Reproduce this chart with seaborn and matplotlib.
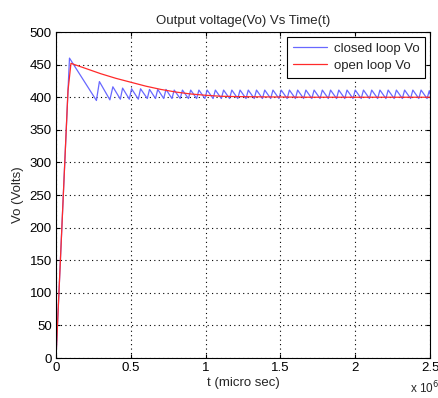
import numpy as np
import pandas as pd
import matplotlib
matplotlib.use("Agg")
import matplotlib.pyplot as plt
import seaborn as sns

# time in units of 1e6 micro sec, voltage in volts
closed_t = [0.0, 0.08, 0.09, 0.27, 0.29, 0.36, 0.38, 0.43, 0.445, 0.49, 0.505,
            0.55, 0.565, 0.61, 0.625, 0.665, 0.68, 0.72, 0.735, 0.775, 0.79,
            0.83, 0.845, 0.885, 0.90, 0.94, 0.955, 0.995, 1.01, 1.05, 1.065,
            1.105, 1.12, 1.16, 1.175, 1.215, 1.23, 1.27, 1.285, 1.325, 1.34,
            1.38, 1.395, 1.435, 1.45, 1.49, 1.505, 1.545, 1.56, 1.60, 1.615,
            1.655, 1.67, 1.71, 1.725, 1.765, 1.78, 1.82, 1.835, 1.875, 1.89,
            1.93, 1.945, 1.985, 2.00, 2.04, 2.055, 2.095, 2.11, 2.15, 2.165,
            2.205, 2.22, 2.26, 2.275, 2.315, 2.33, 2.37, 2.385, 2.425, 2.44,
            2.48, 2.495, 2.5]
closed_v = [0, 410, 460, 395, 424, 396, 416, 397, 414, 397, 413,
            397, 413, 398, 412, 398, 412, 398, 412, 398, 411,
            398, 411, 398, 411, 398, 411, 398, 411, 398, 411,
            398, 411, 398, 411, 398, 411, 398, 411, 398, 411,
            398, 411, 398, 411, 398, 411, 398, 411, 398, 411,
            398, 411, 398, 411, 398, 411, 398, 411, 398, 411,
            398, 411, 398, 411, 398, 411, 398, 411, 398, 411,
            398, 411, 398, 411, 398, 411, 398, 411, 398, 411,
            398, 410, 405]

open_t = [0.0, 0.08, 0.1, 0.2, 0.3, 0.4, 0.5, 0.6, 0.7, 0.8, 0.9,
          1.0, 1.1, 1.2, 1.4, 1.7, 2.0, 2.5]
open_v = [0, 410, 452, 444, 436, 429, 423, 417, 412, 408, 405,
          403, 401.5, 401, 400.5, 400, 400, 400]

closed_df = pd.DataFrame({"t": closed_t, "v": closed_v})
open_df = pd.DataFrame({"t": open_t, "v": open_v})

sns.set_style("white")
plt.rcParams["font.family"] = ["Liberation Sans", "DejaVu Sans"]

fig = plt.figure(figsize=(4.39, 3.98), dpi=100)
ax = fig.add_axes([0.1276, 0.1005, 0.852, 0.819])

sns.lineplot(data=closed_df, x="t", y="v", sort=False, ax=ax,
             color="#6868ff", linewidth=0.9, label="closed loop Vo")
sns.lineplot(data=open_df, x="t", y="v", sort=False, ax=ax,
             color="#ff2a2a", linewidth=0.9, label="open loop Vo")

ax.set_xlim(0, 2.5)
ax.set_ylim(0, 500)
ax.set_xticks([0, 0.5, 1, 1.5, 2, 2.5])
ax.set_xticklabels(["0", "0.5", "1", "1.5", "2", "2.5"])
ax.set_yticks(range(0, 501, 50))
ax.tick_params(direction="in", length=3, labelsize=9.5, colors="black",
               top=True, right=True, bottom=True, left=True, pad=3)
ax.grid(True, color="black", linestyle=(0, (1, 3)), linewidth=0.8)
for sp in ax.spines.values():
    sp.set_color("black")
    sp.set_linewidth(0.8)

ax.set_title("Output voltage(Vo) Vs Time(t)", fontsize=9.5, pad=6)
ax.set_xlabel("t (micro sec)", fontsize=9.5, labelpad=2)
ax.set_ylabel("Vo (Volts)", fontsize=9.5, labelpad=4)
fig.text(0.935, 0.012, r"x 10$^6$", fontsize=8.5)

leg = ax.legend(loc="upper right", fontsize=9.5, frameon=True, fancybox=False,
                borderaxespad=0.35, handlelength=2.6, framealpha=1,
                labelspacing=0.35, borderpad=0.45, handletextpad=0.5)
leg.get_frame().set_edgecolor("black")
leg.get_frame().set_linewidth(0.8)

fig.savefig("out.png", dpi=100)
